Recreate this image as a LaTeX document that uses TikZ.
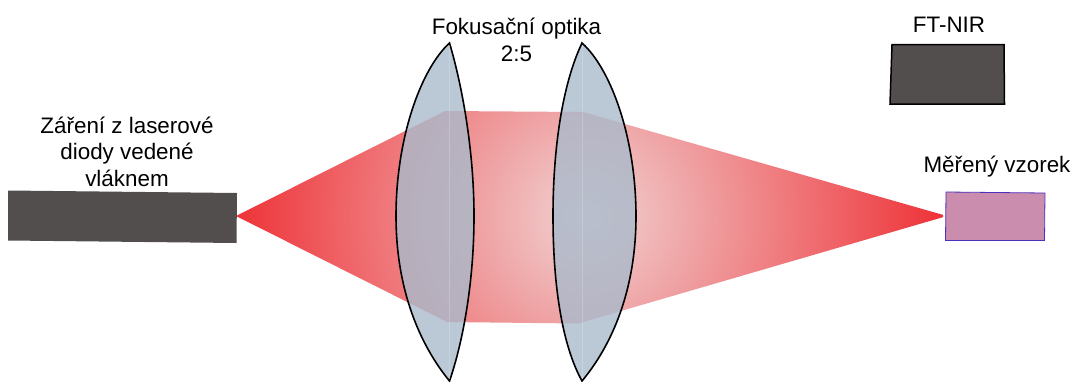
\documentclass[tikz,border=0pt]{standalone}
\usepackage{fontspec}
\setmainfont{Liberation Sans}

\definecolor{beamred}{RGB}{238,50,55}
\definecolor{beampale}{RGB}{240,212,212}
\definecolor{boxgray}{RGB}{82,78,77}
\definecolor{lensblue}{RGB}{170,186,203}
\definecolor{samplepink}{RGB}{203,141,174}
\definecolor{sampleedge}{RGB}{75,50,190}

\begin{document}
\begin{tikzpicture}[
    x=1pt,
    y=-1pt,
    label/.style={
        font=\fontsize{22.4}{26.4}\selectfont,
        align=center,
        text=black
    },
    lens/.style={
        draw=black,
        line width=1.6pt,
        fill=lensblue,
        fill opacity=0.8
    },
    lensaxis/.style={
        draw=white,
        line width=0.6pt,
        opacity=0.2
    },
    devicebox/.style={
        fill=boxgray
    }
]
\useasboundingbox (0,0) rectangle (1073,381);

% Beam
\begin{scope}
\clip (236,216) -- (445,111) -- (583,112) -- (947,216) -- (578,323.5) -- (447,322) -- cycle;
\shade[shading=radial, inner color=beampale, outer color=beamred]
    (233,-139) rectangle (943,571);
\end{scope}

% Lenses
\path[lens] (449.5,43) .. controls (420,70) and (396,140) .. (396,216)
    .. controls (396,290) and (420,345) .. (449.5,381)
    .. controls (462,345) and (474,285) .. (474,216)
    .. controls (474,150) and (462,85) .. cycle;
\path[lens] (582,43) .. controls (612,70) and (636,140) .. (636,216)
    .. controls (636,290) and (612,345) .. (582,381)
    .. controls (562,345) and (553,285) .. (553,216)
    .. controls (553,150) and (562,85) .. cycle;
\draw[lensaxis] (449.5,45) -- (449.5,379);
\draw[lensaxis] (582,45) -- (582,379);

% Fibre, spectrometer, sample
\fill[devicebox] (8,190.5) -- (237,193) -- (236.5,243) -- (8,240.5) -- cycle;
\draw[devicebox, draw=black, line width=1.5pt] (892,44.5) -- (1004,44.5) -- (1004.5,104) -- (890,104) -- cycle;
\draw[fill=samplepink, draw=sampleedge, line width=0.8pt] (946,192) -- (1045,193) -- (1044.5,240.5) -- (945.5,240.5) -- cycle;

% Labels
\node[label] (fibrelabel) at (127,151.5) {Záření z laserové\\diody vedené\\vláknem};
\node[label] (opticslabel) at (516.5,40) {Fokusační optika\\2:5};
\node[label] (ftnirlabel) at (949,25) {FT-NIR};
\node[label] (samplelabel) at (997,167) {Měřený vzorek};
\end{tikzpicture}
\end{document}
